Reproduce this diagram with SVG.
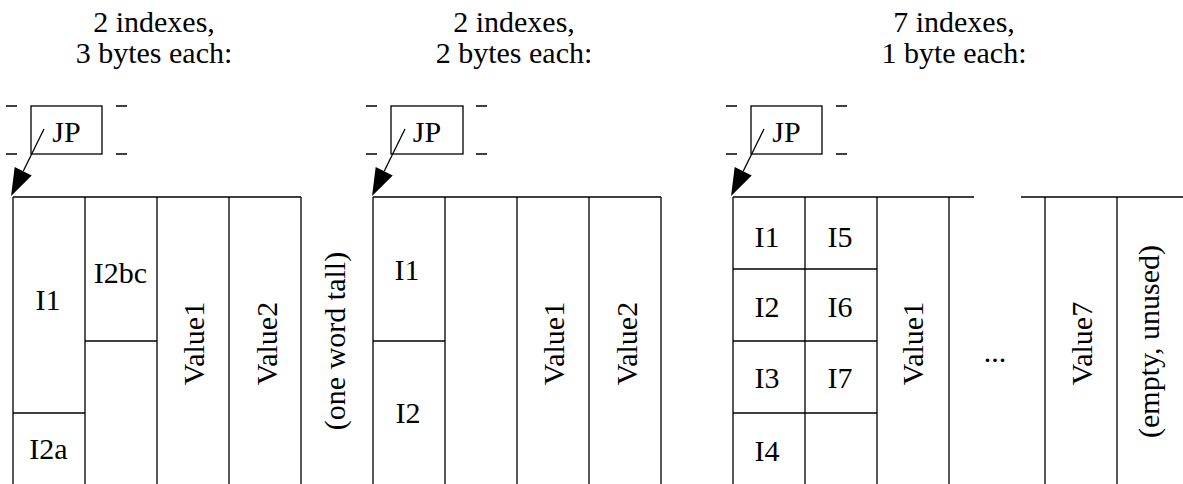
<svg xmlns="http://www.w3.org/2000/svg" width="1183" height="484" viewBox="0 0 1183 484">
  <style>
    text { font-family: "Liberation Serif", "Times New Roman", serif; font-size: 30px; fill: #000; }
    .c { text-anchor: middle; }
    .ln { stroke: #000; stroke-width: 1.3; fill: none; }
    .box { stroke: #000; stroke-width: 1.3; fill: #fff; }
    .arrow { stroke: #000; stroke-width: 1.3; fill: none; marker-end: url(#head); }
  </style>
  <defs>
    <marker id="head" markerUnits="userSpaceOnUse" markerWidth="28" markerHeight="20" viewBox="0 -10 28 20" refX="0" refY="0" orient="auto" overflow="visible">
      <path d="M0,-9.5 L27.5,0 L0,9.5 Z" fill="#000"/>
    </marker>
  </defs>
  <rect width="1183" height="484" fill="#fff"/>

  <!-- headings -->
  <g id="title-3byte">
    <text class="c" x="154" y="32">2 indexes,</text>
    <text class="c" x="154" y="63">3 bytes each:</text>
  </g>
  <g id="title-2byte">
    <text class="c" x="514" y="32">2 indexes,</text>
    <text class="c" x="514" y="63">2 bytes each:</text>
  </g>
  <g id="title-1byte">
    <text class="c" x="954" y="32">7 indexes,</text>
    <text class="c" x="954" y="63">1 byte each:</text>
  </g>

  <!-- JP pointers with dashed-edge marks -->
  <g id="jp1">
    <path class="ln" d="M6,106 H17 M6,154 H17 M116,106 H127 M116,154 H127"/>
    <rect class="box" x="31" y="106" width="71" height="48"/>
    <text class="c" x="66.5" y="142">JP</text>
  </g>
  <g id="jp2">
    <path class="ln" d="M366,106 H377 M366,154 H377 M476,106 H487 M476,154 H487"/>
    <rect class="box" x="391" y="106" width="72" height="48"/>
    <text class="c" x="427" y="142">JP</text>
  </g>
  <g id="jp3">
    <path class="ln" d="M726,106 H737 M726,154 H737 M836,106 H847 M836,154 H847"/>
    <rect class="box" x="751" y="106" width="71" height="48"/>
    <text class="c" x="786.5" y="142">JP</text>
  </g>

  <!-- leaf with 3-byte indexes -->
  <g id="leaf3">
    <path class="ln" d="M13,197 H301 M13,197 V484 M85,197 V484 M157,197 V484 M229,197 V484 M301,197 V484 M13,413 H85 M85,341 H157"/>
    <g id="leaf3-i1"><text class="c" x="48" y="310">I1</text></g>
    <g id="leaf3-i2bc"><text class="c" x="120.5" y="283">I2bc</text></g>
    <g id="leaf3-i2a"><text class="c" x="48.5" y="459">I2a</text></g>
    <g id="leaf3-v1"><text class="c" transform="translate(204,343.5) rotate(-90)">Value1</text></g>
    <g id="leaf3-v2"><text class="c" transform="translate(277,343.5) rotate(-90)">Value2</text></g>
  </g>

  <g id="word-note">
    <text class="c" transform="translate(345,341) rotate(-90)">(one word tall)</text>
  </g>

  <!-- leaf with 2-byte indexes -->
  <g id="leaf2">
    <path class="ln" d="M373,197 H661 M373,197 V484 M445,197 V484 M517,197 V484 M589,197 V484 M661,197 V484 M373,341 H445"/>
    <g id="leaf2-i1"><text class="c" x="407" y="280">I1</text></g>
    <g id="leaf2-i2"><text class="c" x="408" y="423">I2</text></g>
    <g id="leaf2-v1"><text class="c" transform="translate(564,343.5) rotate(-90)">Value1</text></g>
    <g id="leaf2-v2"><text class="c" transform="translate(637,343.5) rotate(-90)">Value2</text></g>
  </g>

  <!-- leaf with 1-byte indexes -->
  <g id="leaf1">
    <path class="ln" d="M733,197 H974 M1021,197 H1183 M733,197 V484 M805,197 V484 M877,197 V484 M949,197 V484 M1045,197 V484 M1117,197 V484 M733,269 H877 M733,341 H877 M733,413 H877"/>
    <g id="leaf1-i1"><text class="c" x="767" y="247">I1</text></g>
    <g id="leaf1-i2"><text class="c" x="767" y="317">I2</text></g>
    <g id="leaf1-i3"><text class="c" x="767" y="388">I3</text></g>
    <g id="leaf1-i4"><text class="c" x="767" y="461">I4</text></g>
    <g id="leaf1-i5"><text class="c" x="840" y="247">I5</text></g>
    <g id="leaf1-i6"><text class="c" x="840" y="317">I6</text></g>
    <g id="leaf1-i7"><text class="c" x="840" y="388">I7</text></g>
    <g id="leaf1-v1"><text class="c" transform="translate(923,343.5) rotate(-90)">Value1</text></g>
    <g id="leaf1-dots"><text class="c" x="995" y="362">...</text></g>
    <g id="leaf1-v7"><text class="c" transform="translate(1092,343.5) rotate(-90)">Value7</text></g>
    <g id="leaf1-empty"><text class="c" transform="translate(1159,341.5) rotate(-90)">(empty, unused)</text></g>
  </g>

  <!-- pointer arrows from each JP to its leaf -->
  <g id="connectors">
    <line class="arrow" x1="44" y1="129" x2="23.2" y2="171.3"/>
    <line class="arrow" x1="405" y1="129" x2="384.2" y2="171.3"/>
    <line class="arrow" x1="764" y1="129" x2="743.2" y2="171.3"/>
  </g>
</svg>
